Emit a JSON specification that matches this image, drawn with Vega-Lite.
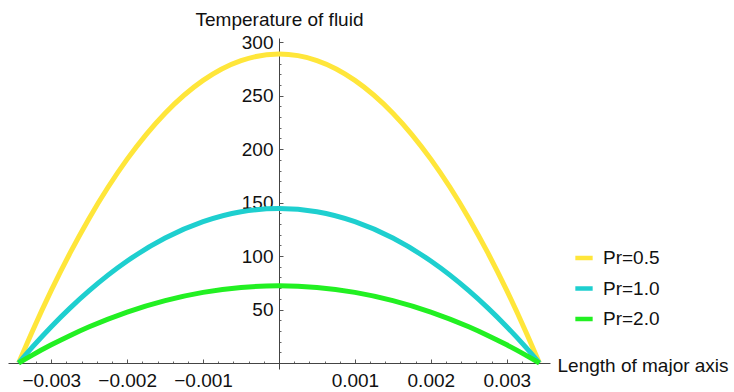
{
  "$schema": "https://vega.github.io/schema/vega-lite/v6.json",
  "autosize": "none",
  "width": 542,
  "height": 331,
  "padding": {"left": 8, "top": 38, "right": 184, "bottom": 23},
  "background": "white",
  "config": {
    "view": {"stroke": null},
    "font": "Liberation Sans",
    "axis": {"grid": false}
  },
  "data": {
    "values": [
      {"x": -0.00343, "T": 0, "Pr": "Pr=0.5"},
      {"x": -0.00325, "T": 29.5, "Pr": "Pr=0.5"},
      {"x": -0.003, "T": 67.9, "Pr": "Pr=0.5"},
      {"x": -0.00275, "T": 103.2, "Pr": "Pr=0.5"},
      {"x": -0.0025, "T": 135.5, "Pr": "Pr=0.5"},
      {"x": -0.002, "T": 190.7, "Pr": "Pr=0.5"},
      {"x": -0.0015, "T": 233.7, "Pr": "Pr=0.5"},
      {"x": -0.001, "T": 264.4, "Pr": "Pr=0.5"},
      {"x": -0.0005, "T": 282.9, "Pr": "Pr=0.5"},
      {"x": 0, "T": 289, "Pr": "Pr=0.5"},
      {"x": 0.0005, "T": 282.9, "Pr": "Pr=0.5"},
      {"x": 0.001, "T": 264.4, "Pr": "Pr=0.5"},
      {"x": 0.0015, "T": 233.7, "Pr": "Pr=0.5"},
      {"x": 0.002, "T": 190.7, "Pr": "Pr=0.5"},
      {"x": 0.0025, "T": 135.5, "Pr": "Pr=0.5"},
      {"x": 0.00275, "T": 103.2, "Pr": "Pr=0.5"},
      {"x": 0.003, "T": 67.9, "Pr": "Pr=0.5"},
      {"x": 0.00325, "T": 29.5, "Pr": "Pr=0.5"},
      {"x": 0.00343, "T": 0, "Pr": "Pr=0.5"},
      {"x": -0.00343, "T": 0, "Pr": "Pr=1.0"},
      {"x": -0.00325, "T": 14.8, "Pr": "Pr=1.0"},
      {"x": -0.003, "T": 34.0, "Pr": "Pr=1.0"},
      {"x": -0.00275, "T": 51.6, "Pr": "Pr=1.0"},
      {"x": -0.0025, "T": 67.7, "Pr": "Pr=1.0"},
      {"x": -0.002, "T": 95.4, "Pr": "Pr=1.0"},
      {"x": -0.0015, "T": 116.9, "Pr": "Pr=1.0"},
      {"x": -0.001, "T": 132.2, "Pr": "Pr=1.0"},
      {"x": -0.0005, "T": 141.5, "Pr": "Pr=1.0"},
      {"x": 0, "T": 144.5, "Pr": "Pr=1.0"},
      {"x": 0.0005, "T": 141.5, "Pr": "Pr=1.0"},
      {"x": 0.001, "T": 132.2, "Pr": "Pr=1.0"},
      {"x": 0.0015, "T": 116.9, "Pr": "Pr=1.0"},
      {"x": 0.002, "T": 95.4, "Pr": "Pr=1.0"},
      {"x": 0.0025, "T": 67.7, "Pr": "Pr=1.0"},
      {"x": 0.00275, "T": 51.6, "Pr": "Pr=1.0"},
      {"x": 0.003, "T": 34.0, "Pr": "Pr=1.0"},
      {"x": 0.00325, "T": 14.8, "Pr": "Pr=1.0"},
      {"x": 0.00343, "T": 0, "Pr": "Pr=1.0"},
      {"x": -0.00343, "T": 0, "Pr": "Pr=2.0"},
      {"x": -0.00325, "T": 7.4, "Pr": "Pr=2.0"},
      {"x": -0.003, "T": 17.0, "Pr": "Pr=2.0"},
      {"x": -0.00275, "T": 25.8, "Pr": "Pr=2.0"},
      {"x": -0.0025, "T": 33.9, "Pr": "Pr=2.0"},
      {"x": -0.002, "T": 47.7, "Pr": "Pr=2.0"},
      {"x": -0.0015, "T": 58.4, "Pr": "Pr=2.0"},
      {"x": -0.001, "T": 66.1, "Pr": "Pr=2.0"},
      {"x": -0.0005, "T": 70.7, "Pr": "Pr=2.0"},
      {"x": 0, "T": 72.25, "Pr": "Pr=2.0"},
      {"x": 0.0005, "T": 70.7, "Pr": "Pr=2.0"},
      {"x": 0.001, "T": 66.1, "Pr": "Pr=2.0"},
      {"x": 0.0015, "T": 58.4, "Pr": "Pr=2.0"},
      {"x": 0.002, "T": 47.7, "Pr": "Pr=2.0"},
      {"x": 0.0025, "T": 33.9, "Pr": "Pr=2.0"},
      {"x": 0.00275, "T": 25.8, "Pr": "Pr=2.0"},
      {"x": 0.003, "T": 17.0, "Pr": "Pr=2.0"},
      {"x": 0.00325, "T": 7.4, "Pr": "Pr=2.0"},
      {"x": 0.00343, "T": 0, "Pr": "Pr=2.0"}
    ]
  },
  "layer": [
    {
      "mark": {"type": "point", "opacity": 0},
      "encoding": {
        "x": {
          "field": "x", "type": "quantitative",
          "scale": {"domain": [-0.00357, 0.00357], "nice": false, "zero": false},
          "axis": {
            "orient": "bottom", "offset": -6, "domain": false, "labels": false, "title": null,
            "ticks": true, "tickSize": -2, "tickColor": "#666", "tickWidth": 1,
            "values": [-0.0034, -0.0032, -0.003, -0.0028, -0.0026, -0.0024, -0.0022, -0.002, -0.0018, -0.0016, -0.0014, -0.0012, -0.001, -0.0008, -0.0006, -0.0004, -0.0002, 0.0002, 0.0004, 0.0006, 0.0008, 0.001, 0.0012, 0.0014, 0.0016, 0.0018, 0.002, 0.0022, 0.0024, 0.0026, 0.0028, 0.003, 0.0032, 0.0034]
          }
        },
        "y": {
          "field": "T", "type": "quantitative",
          "scale": {"domain": [-5.6, 304], "nice": false, "zero": false},
          "axis": {
            "orient": "left", "offset": -271, "domain": false, "labels": false, "title": null,
            "ticks": true, "tickSize": -2, "tickColor": "#666", "tickWidth": 1,
            "values": [10, 20, 30, 40, 50, 60, 70, 80, 90, 100, 110, 120, 130, 140, 150, 160, 170, 180, 190, 200, 210, 220, 230, 240, 250, 260, 270, 280, 290, 300]
          }
        }
      }
    },
    {
      "mark": {"type": "point", "opacity": 0},
      "encoding": {
        "x": {
          "field": "x", "type": "quantitative",
          "axis": {
            "orient": "bottom", "offset": -6, "domain": false, "labels": false, "title": null,
            "ticks": true, "tickSize": -4, "tickColor": "#555", "tickWidth": 1,
            "values": [-0.003, -0.002, -0.001, 0.001, 0.002, 0.003]
          }
        },
        "y": {
          "field": "T", "type": "quantitative",
          "axis": {
            "orient": "left", "offset": -271, "domain": false, "labels": false, "title": null,
            "ticks": true, "tickSize": -4, "tickColor": "#555", "tickWidth": 1,
            "values": [50, 100, 150, 200, 250, 300]
          }
        }
      }
    },
    {
      "mark": {"type": "line", "strokeWidth": 5, "interpolate": "monotone", "strokeCap": "butt"},
      "encoding": {
        "x": {
          "field": "x", "type": "quantitative",
          "axis": {
            "orient": "bottom", "offset": -6, "domain": true, "domainColor": "#444", "domainWidth": 1,
            "ticks": false, "labels": true, "labelPadding": 8, "labelFontSize": 19, "labelColor": "#111",
            "format": ".3f", "values": [-0.003, -0.002, -0.001, 0.001, 0.002, 0.003],
            "labelOverlap": false, "labelFlush": false,
            "title": "Length of major axis", "titleFontSize": 19, "titleFontWeight": "normal", "titleColor": "#111",
            "titleAlign": "left", "titleBaseline": "alphabetic", "titleX": 549, "titleY": 8, "titleAnchor": null
          }
        },
        "y": {
          "field": "T", "type": "quantitative",
          "axis": {
            "orient": "left", "offset": -271, "domain": true, "domainColor": "#444", "domainWidth": 1,
            "ticks": false, "labels": true, "labelPadding": 6, "labelFontSize": 19, "labelColor": "#111",
            "values": [50, 100, 150, 200, 250, 300], "labelOverlap": false, "labelFlush": false,
            "title": "Temperature of fluid", "titleFontSize": 19, "titleFontWeight": "normal", "titleColor": "#111",
            "titleAngle": 0, "titleAlign": "center", "titleBaseline": "alphabetic", "titleX": 0, "titleY": -12.5
          }
        },
        "color": {
          "field": "Pr", "type": "nominal",
          "scale": {"domain": ["Pr=0.5", "Pr=1.0", "Pr=2.0"], "range": ["#FFE63A", "#1ECFCF", "#22F022"]},
          "legend": {
            "title": null, "orient": "none", "legendX": 565, "legendY": 209,
            "symbolType": "stroke", "symbolSize": 300, "symbolStrokeWidth": 4.5,
            "labelFontSize": 19, "labelColor": "#111", "labelOffset": 8, "rowPadding": 9.5, "padding": 0
          }
        }
      }
    }
  ],
  "resolve": {"axis": {"x": "independent", "y": "independent"}}
}
